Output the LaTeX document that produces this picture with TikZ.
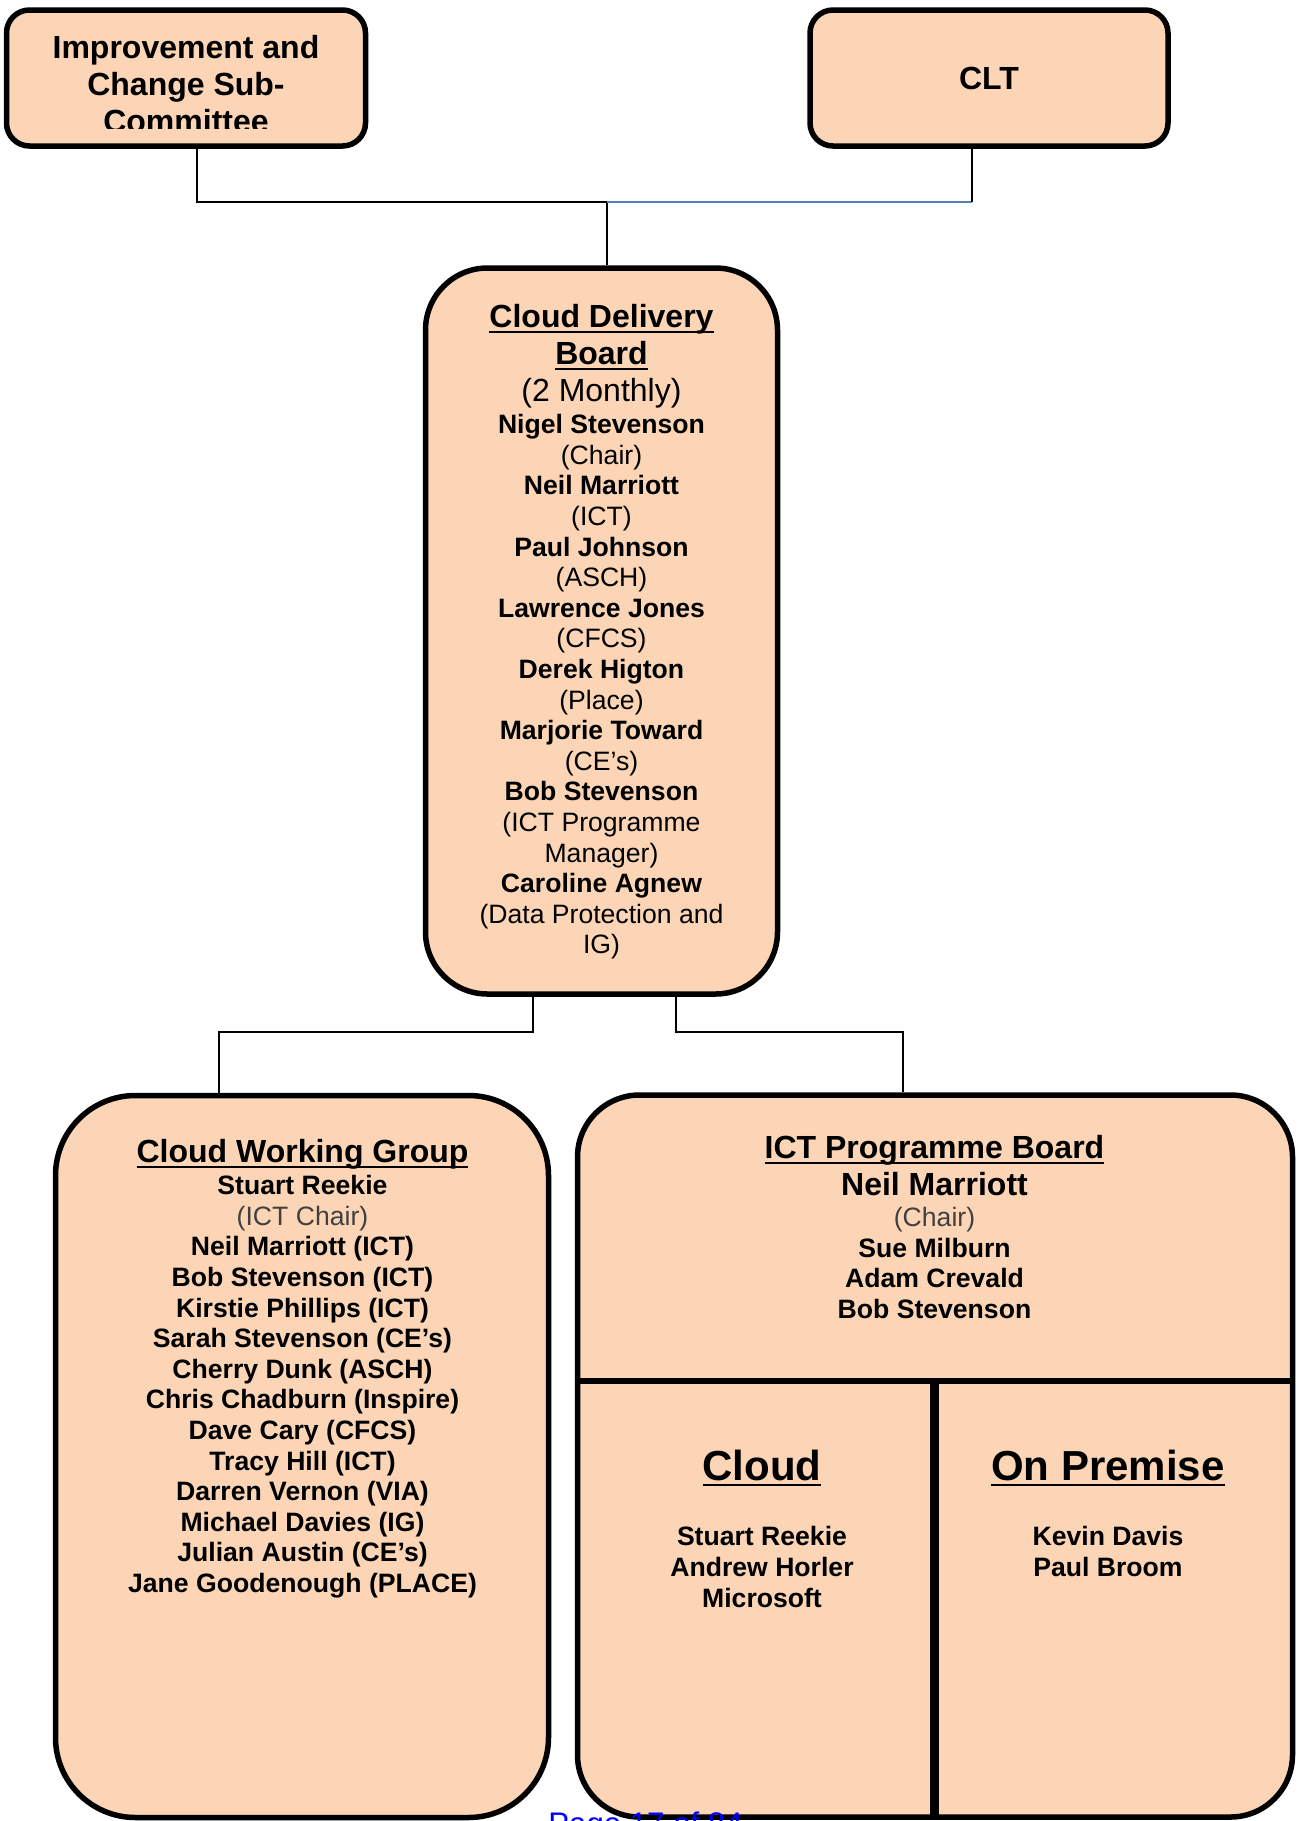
\documentclass[tikz,border=0pt]{standalone}
\usepackage{fontspec}
\setmainfont{Liberation Sans}
\newsavebox{\ulinebox}
\newcommand{\uln}[1]{\sbox{\ulinebox}{#1}\rlap{\rule[-2.8pt]{\wd\ulinebox}{1pt}}\usebox{\ulinebox}}
\definecolor{boardfill}{HTML}{FBD5B5}
\definecolor{linkblue}{HTML}{4F81BD}
\definecolor{footblue}{HTML}{0000FF}

\begin{document}
\begin{tikzpicture}[x=0.5pt, y=-0.5pt,
  board/.style={draw, line width=2.75pt, fill=boardfill},
  link/.style={line width=0.75pt},
  head/.style={font=\bfseries\fontsize{16}{18.6}\selectfont, align=center, inner sep=0pt, anchor=north},
  names/.style={font=\fontsize{13.3}{15.3}\selectfont, align=center, inner sep=0pt, anchor=north}]
  \useasboundingbox (0,0) rectangle (1297,1821);

  % Top boxes
  \node[board, rounded corners=11.5pt, minimum width=179.5pt, minimum height=68pt] (icsc) at (186,78) {};
  \node[board, rounded corners=11.5pt, minimum width=179pt, minimum height=68pt,
        font=\bfseries\fontsize{16}{18.6}\selectfont] (clt) at (989,78) {CLT};
  \begin{scope}
    \clip (7,9) rectangle (367,128); % text runs out of the box
    \node[head] (icsctext) at (186,35) {Improvement and\\Change Sub-\\Committee};
  \end{scope}

  % Cloud Delivery Board
  \node[board, rounded corners=31pt, minimum width=176pt, minimum height=363pt] (cdb) at (601.5,631) {};
  \node[head] (cdbtitle) at (601.5,304) {\uln{Cloud Delivery}\\\uln{Board}\\\mdseries(2 Monthly)};
  \node[names] (cdbmembers) at (601.5,414) {\textbf{Nigel Stevenson}\\(Chair)\\\textbf{Neil Marriott}\\(ICT)\\
    \textbf{Paul Johnson}\\(ASCH)\\\textbf{Lawrence Jones}\\(CFCS)\\\textbf{Derek Higton}\\(Place)\\
    \textbf{Marjorie Toward}\\(CE’s)\\\textbf{Bob Stevenson}\\(ICT Programme\\Manager)\\
    \textbf{Caroline Agnew}\\(Data Protection and\\IG)};

  % Cloud Working Group
  \node[board, rounded corners=40pt, minimum width=246.5pt, minimum height=361pt] (cwg) at (302,1456.5) {};
  \node[head] (cwgtitle) at (302.5,1139) {\uln{Cloud Working Group}};
  \node[names, font=\bfseries\fontsize{13.3}{15.3}\selectfont] (cwgmembers) at (302.5,1175) {Stuart Reekie\\
    {\mdseries\color{black!75}(ICT Chair)}\\Neil Marriott (ICT)\\Bob Stevenson (ICT)\\Kirstie Phillips (ICT)\\
    Sarah Stevenson (CE’s)\\Cherry Dunk (ASCH)\\Chris Chadburn (Inspire)\\Dave Cary (CFCS)\\
    Tracy Hill (ICT)\\Darren Vernon (VIA)\\Michael Davies (IG)\\Julian Austin (CE’s)\\Jane Goodenough (PLACE)};

  % ICT Programme Board
  \node[board, rounded corners=31pt, minimum width=357.5pt, minimum height=361pt] (ictpb) at (935,1456) {};
  \draw[line width=2.75pt] (579,1381) -- (1291,1381);
  \draw[line width=4.5pt] (934,1381) -- (ictpb.south -| 934,0);
  \node[head] (ictpbtitle) at (934.5,1134.5) {\uln{ICT Programme Board}\\Neil Marriott};
  \node[names] (ictpbmembers) at (934.5,1207) {{\color{black!75}(Chair)}\\\textbf{Sue Milburn}\\
    \textbf{Adam Crevald}\\\textbf{Bob Stevenson}};
  \node[head, font=\bfseries\fontsize{21}{24}\selectfont] (cloudhead) at (762,1450) {\uln{Cloud}};
  \node[names, font=\bfseries\fontsize{13.3}{15.65}\selectfont] (cloudmembers) at (762,1525.5) {Stuart Reekie\\Andrew Horler\\Microsoft};
  \node[head, font=\bfseries\fontsize{21}{24}\selectfont] (premhead) at (1108,1450) {\uln{On Premise}};
  \node[names, font=\bfseries\fontsize{13.3}{15.65}\selectfont] (premmembers) at (1108,1525.5) {Kevin Davis\\Paul Broom};

  % Links between boxes
  \coordinate (jtop) at (607,202);
  \coordinate (jclt) at (972,202);
  \draw[link] (icsc.south -| 197,0) |- (jtop) -- (cdb.north -| jtop);
  \draw[link, linkblue] (jtop) -- (jclt);
  \draw[link] (clt.south -| jclt) -- (jclt);
  \coordinate (jleft) at (533,1032);
  \coordinate (jright) at (676,1032);
  \draw[link] (cdb.south -| jleft) -- (jleft) -| (cwg.north -| 219,0);
  \draw[link] (cdb.south -| jright) -- (jright) -| (ictpb.north -| 903,0);

  % Page footer, cut by the page edge
  \node[anchor=north west, inner sep=0pt, text=footblue, font=\fontsize{15.6}{18}\selectfont] (pagefoot) at (548,1811) {Page 17 of 84};
\end{tikzpicture}
\end{document}
